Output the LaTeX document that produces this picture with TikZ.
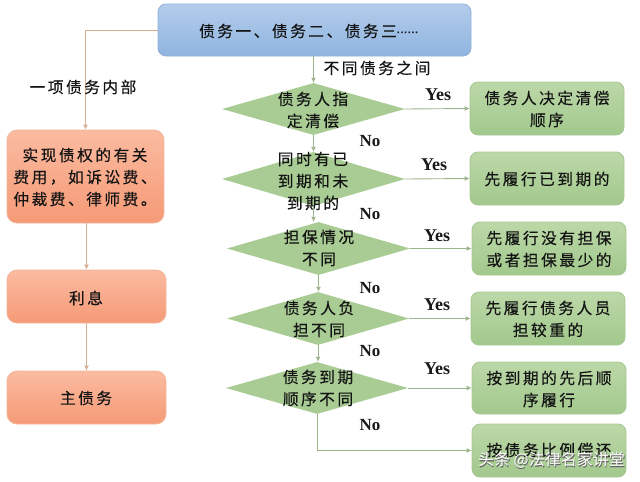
\documentclass[tikz,border=0pt]{standalone}
\usepackage{fontspec}
\setmainfont{Liberation Serif}
\newfontfamily\cjk[LetterSpace=16,FakeBold=0.35]{Noto Sans CJK SC}
\newfontfamily\cjkw[FakeBold=0.3]{Noto Sans CJK SC}
\newfontfamily\cjkd{Noto Sans CJK SC}
\newfontfamily\dotf{Liberation Sans}
\usetikzlibrary{arrows.meta,shapes.geometric}
\definecolor{ln}{HTML}{9DB58C}
\definecolor{lo}{HTML}{D8AE92}
\definecolor{topa}{HTML}{B3CDEB}\definecolor{topb2}{HTML}{8FB4E0}\definecolor{topd}{HTML}{8FB0D8}
\definecolor{ora}{HTML}{FBBBA0}\definecolor{orb2}{HTML}{F59A76}\definecolor{ord}{HTML}{F2B69C}
\definecolor{gra}{HTML}{BCD8A8}\definecolor{grb2}{HTML}{A2C88C}\definecolor{grd}{HTML}{A6C692}
\definecolor{grm}{HTML}{A9CC94}
\tikzset{
  txt/.style={font=\cjk\fontsize{15.7}{22}\selectfont,text=black!92,align=center,inner sep=0},
  topbox/.style={rounded corners=8,draw=topd,top color=topa,bottom color=topb2,line width=0.8},
  orb/.style={rounded corners=10,draw=ord,top color=ora,bottom color=orb2,line width=0.8},
  grb/.style={rounded corners=8,draw=grd,top color=gra,bottom color=grb2,line width=0.8},
  dia/.style={diamond,draw=none,fill=grm,inner sep=0},
  cong/.style={draw=ln,line width=0.9,-{Latex[length=5,width=5]}},
  cono/.style={draw=lo,line width=0.9,-{Latex[length=5,width=5]}},
  yes/.style={font=\fontsize{18}{20}\selectfont\bfseries,text=black!90,inner sep=0},
  no/.style={font=\fontsize{17}{20}\selectfont\bfseries,text=black!90,inner sep=0}
}
\begin{document}
\begin{tikzpicture}[x=1pt,y=-1pt]
\useasboundingbox (0,0) rectangle (640,482);
% boxes
\newcommand{\bx}[7]{\node[#1,minimum width=#4,minimum height=#5,inner sep=0] (#2) at (#3) {}; \node[txt] (#2t) at (#6) {#7};}
\bx{topbox}{top}{314.5,30}{313}{52}{309,31}{债务一、债务二、债务三{\dotf\bfseries\fontsize{11}{11}\selectfont ······}}
\bx{orb}{la}{85.5,176.5}{157}{93}{85,177}{实现债权的有关\\费用，如诉讼费、\\仲裁费、律师费。}
\bx{orb}{lb}{86.5,296.5}{159}{53}{86,298}{利息}
\bx{orb}{lc}{86.5,397.5}{159}{53}{86,398}{主债务}
\bx{grb}{ra}{547,108.5}{154}{53}{547,109}{债务人决定清偿\\顺序}
\bx{grb}{rb}{547,178.5}{154}{53}{547,179}{先履行已到期的}
\bx{grb}{rc}{549,248.5}{154}{53}{549,249}{先履行没有担保\\或者担保最少的}
\bx{grb}{rd}{548,318.5}{154}{53}{548,319}{先履行债务人员\\担较重的}
\bx{grb}{re}{549,388}{154}{52}{549,389}{按到期的先后顺\\序履行}
\bx{grb}{rf}{549,450.5}{154}{53}{549,450}{按债务比例偿还}
% diamonds
\node[dia,minimum width=183,minimum height=52] (da) at (313.5,109) {};
\node[dia,minimum width=183,minimum height=54] (db) at (313.5,179) {};
\node[dia,minimum width=183,minimum height=53] (dc) at (318.5,248.5) {};
\node[dia,minimum width=182,minimum height=53] (dd) at (318,318.5) {};
\node[dia,minimum width=182,minimum height=52] (de) at (317,388) {};
\node[txt] (dat) at (313,110) {债务人指\\定清偿};
\node[txt] (dbt) at (313,181) {同时有已\\到期和未\\到期的};
\node[txt] (dct) at (319,248) {担保情况\\不同};
\node[txt] (ddt) at (319,319) {债务人负\\担不同};
\node[txt] (det) at (318,388) {债务到期\\顺序不同};
% connectors
\draw[cono] (top.west) -| (la.north);
\draw[cono] (la.south -| lb.south) -- (lb.north);
\draw[cono] (lb.south) -- (lc.north);
\draw[cong] (top.south -| da.north) -- (da.north);
\draw[cong] (da.south) -- (db.north -| da.south);
\draw[cong] (db.south) -- (dc.north -| db.south);
\draw[cong] (dc.south) -- (dd.north -| dc.south);
\draw[cong] (dd.south) -- (de.north -| dd.south);
\draw[cong] (de.south) |- (rf.west);
\draw[cong] (da.east) -- (ra.west);
\draw[cong] (db.east) -- (rb.west);
\draw[cong] (dc.east) -- (rc.west);
\draw[cong] (dd.east) -- (rd.west);
\draw[cong] (de.east) -- (re.west);
% labels
\node[txt] (l1) at (83,87) {一项债务内部};
\node[txt] (l2) at (377,68) {不同债务之间};
\node[yes] (y1) at (438,95) {Yes};
\node[yes] (y2) at (434,165) {Yes};
\node[yes] (y3) at (437,236) {Yes};
\node[yes] (y4) at (437,305) {Yes};
\node[yes] (y5) at (437,369) {Yes};
\node[no] (n1) at (370,141) {No};
\node[no] (n2) at (370,214) {No};
\node[no] (n3) at (370,288) {No};
\node[no] (n4) at (370,351) {No};
\node[no] (n5) at (370,425) {No};
% watermark
\node[font=\cjkw\fontsize{16}{18}\selectfont,text=black!60,inner sep=0] (wms) at (552,460.8) {头条 @法律名家讲堂};
\node[font=\cjkd\fontsize{16}{18}\selectfont,text=white,inner sep=0] (wm) at (551.4,460) {头条 @法律名家讲堂};
\end{tikzpicture}
\end{document}
